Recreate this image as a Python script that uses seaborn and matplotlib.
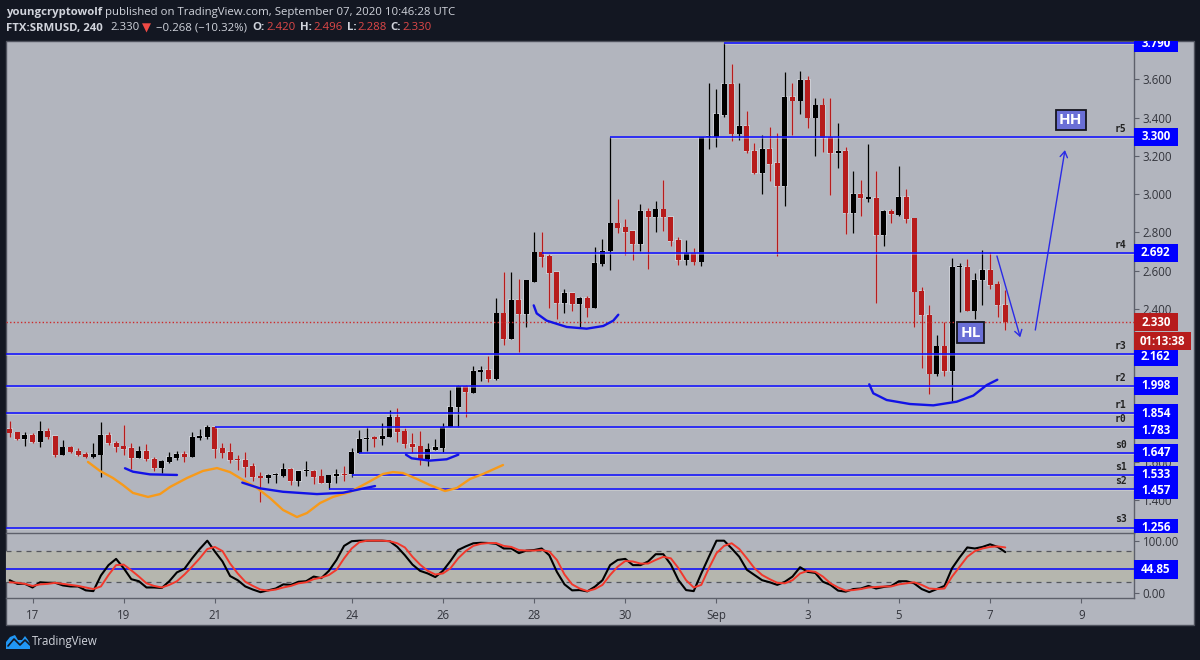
import matplotlib
matplotlib.use("Agg")
import matplotlib.pyplot as plt
import seaborn as sns
import numpy as np
from matplotlib.patches import Rectangle, Polygon
from matplotlib.transforms import blended_transform_factory, Bbox, TransformedBbox

# ---------- OHLC (4h candles, FTX:SRMUSD) ----------
opens = [1.770,1.754,1.717,1.740,1.703,1.763,1.735,1.637,1.675,1.656,
1.641,1.627,1.637,1.740,1.700,1.681,1.672,1.621,1.656,1.616,
1.567,1.597,1.621,1.641,1.627,1.726,1.728,1.784,1.670,1.651,
1.613,1.611,1.578,1.524,1.515,1.531,1.527,1.562,1.499,1.550,
1.552,1.524,1.489,1.524,1.538,1.536,1.648,1.717,1.728,1.717,
1.731,1.834,1.759,1.695,1.681,1.616,1.662,1.670,1.782,1.885,
1.998,1.961,2.071,2.080,2.031,2.376,2.242,2.446,2.371,2.542,
2.695,2.676,2.592,2.430,2.483,2.425,2.458,2.406,2.636,2.704,
2.847,2.826,2.809,2.739,2.911,2.878,2.920,2.882,2.760,2.655,
2.690,2.647,3.298,3.299,3.414,3.576,3.316,3.356,3.227,3.109,
3.238,3.163,3.043,3.508,3.489,3.597,3.400,3.464,3.299,3.213,
3.227,2.900,3.001,2.976,2.982,2.786,2.912,2.893,2.987,2.873,
2.493,2.369,2.061,2.204,2.075,2.617,2.620,2.390,2.550,2.603,
2.528,2.420]
closes = [1.752,1.717,1.740,1.702,1.763,1.731,1.635,1.675,1.653,1.635,
1.627,1.641,1.740,1.696,1.675,1.668,1.621,1.658,1.613,1.567,
1.602,1.627,1.641,1.627,1.729,1.735,1.784,1.668,1.648,1.609,
1.607,1.571,1.519,1.517,1.533,1.536,1.562,1.499,1.553,1.557,
1.520,1.489,1.529,1.538,1.531,1.651,1.719,1.726,1.721,1.735,
1.834,1.757,1.693,1.677,1.616,1.665,1.677,1.782,1.887,1.998,
1.963,2.075,2.080,2.031,2.376,2.242,2.446,2.371,2.549,2.695,
2.671,2.587,2.430,2.483,2.425,2.458,2.406,2.640,2.704,2.847,
2.824,2.803,2.739,2.911,2.878,2.920,2.878,2.755,2.655,2.694,
2.647,3.297,3.302,3.419,3.576,3.316,3.356,3.226,3.109,3.238,
3.158,3.043,3.508,3.489,3.597,3.400,3.464,3.294,3.213,3.227,
2.900,3.001,2.978,2.983,2.786,2.912,2.894,2.987,2.870,2.490,
2.368,2.061,2.204,2.075,2.620,2.620,2.390,2.550,2.603,2.524,
2.420,2.330]
highs = [1.813,1.757,1.757,1.749,1.813,1.775,1.735,1.714,1.682,1.670,
1.653,1.700,1.810,1.754,1.710,1.790,1.696,1.684,1.691,1.623,
1.609,1.651,1.658,1.658,1.756,1.770,1.794,1.784,1.696,1.696,
1.635,1.651,1.595,1.546,1.536,1.539,1.592,1.566,1.553,1.604,
1.557,1.562,1.531,1.562,1.578,1.670,1.766,1.784,1.735,1.804,
1.871,1.881,1.775,1.749,1.761,1.697,1.721,1.801,1.975,2.002,
2.002,2.101,2.101,2.153,2.455,2.593,2.593,2.554,2.551,2.803,
2.803,2.685,2.592,2.502,2.484,2.463,2.467,2.725,2.763,3.300,
2.973,2.868,2.809,2.948,2.927,2.964,3.074,2.882,2.774,2.760,
2.716,3.300,3.583,3.548,3.790,3.680,3.583,3.435,3.266,3.311,
3.349,3.318,3.640,3.583,3.646,3.618,3.501,3.501,3.501,3.370,
3.245,3.119,3.074,3.262,3.119,2.917,2.922,3.149,3.027,2.873,
2.516,2.420,2.263,2.333,2.664,2.638,2.660,2.585,2.707,2.695,
2.547,2.496]
lows = [1.731,1.714,1.682,1.696,1.679,1.717,1.627,1.635,1.648,1.630,
1.618,1.618,1.522,1.686,1.651,1.635,1.564,1.618,1.602,1.553,
1.543,1.592,1.609,1.599,1.623,1.714,1.721,1.621,1.618,1.592,
1.557,1.519,1.501,1.391,1.487,1.487,1.522,1.479,1.473,1.526,
1.484,1.487,1.456,1.491,1.501,1.522,1.648,1.656,1.679,1.688,
1.731,1.705,1.670,1.648,1.583,1.580,1.662,1.653,1.780,1.784,
1.836,1.958,2.021,2.017,2.028,2.209,2.242,2.174,2.307,2.538,
2.617,2.406,2.347,2.376,2.390,2.307,2.355,2.406,2.626,2.603,
2.795,2.681,2.655,2.704,2.608,2.800,2.809,2.730,2.631,2.631,
2.629,2.625,3.238,3.248,3.405,3.280,3.283,3.213,3.105,3.001,
3.070,2.677,2.938,3.309,3.419,3.346,3.199,3.222,2.995,3.135,
2.790,2.799,2.887,2.957,2.432,2.731,2.847,2.887,2.851,2.303,
2.092,1.953,2.050,2.050,1.918,2.385,2.390,2.347,2.420,2.503,
2.355,2.288]

# ---------- Stochastic RSI ----------
stoch_k = [24,17,17,10,20,19,19,14,12,12,
4.5,3,33,53,65,47,26,22,10,10,
9,22,39,46,66,84,100,79,60,32,
24,12,6,1,4.5,8,16,15,21,22,
31,28,42,63,90,99,100,100,100,100,
99,88,72,54,42,37,30,42,61,82,
89,95,96,95.5,94,85,85,76,81,82,
85,72,40,16,4.5,5,2.5,11.5,24,53,
63,65,53,53,60,74,74,54,24,5,
3,37,69,100,100,85,69,44,34,24,
20,15,21,31,49,40,38,21,15,4,
2,7,8,13,8,11,13,22,22,18,
7,1,7,13,47,68,87,85,88,93,
88,78]
stoch_d = [20,19,17,13,16,17,19,17,15,13,
10,7,12,34,53,54,43,31,18,13,
10,15,22,35,50,66,84,88,80,56,
37,21,13,6,4,6,10,13,18,20,
26,29,34,44,66,85,97,100,100,100,
99,95,87,69,54,42,35,37,47,66,
80,90,94,95.5,95.5,90,88,82,81,81,
82,79,63,35,16,8,3,7,15,34,
50,61,60,56,56,63,69,66,47,24,
10,15,47,76,90,95,84,66,47,34,
26,19,18,24,37,42,40,31,18,10,
4,5,7,10,11,12,12,16,18,20,
15,8,7,8,31,50,69,80,85,88,
89,87]

# ---------- levels ----------
level_prices = [3.790, 3.300, 2.692, 2.162, 1.998, 1.854, 1.783, 1.647, 1.533, 1.457, 1.256]
level_starts = [94, 79, 70, None, None, None, 27, 46, 45, 42, None]
level_labels = ["3.790","3.300","2.692","2.162","1.998","1.854","1.783","1.647","1.533","1.457","1.256"]
level_tag_y  = [3.790, 3.300, 2.692, 2.150, 1.998, 1.854, 1.766, 1.647, 1.533, 1.450, 1.256]
pivot_names  = ["r5","r4","r3","r2","r1","r0","s0","s1","s2","s3"]
pivot_prices = [3.300, 2.692, 2.162, 1.998, 1.854, 1.783, 1.647, 1.533, 1.457, 1.256]
last_price = 2.330
stoch_level = 44.85
tick_positions = [3,15,27,45,57,69,81,93,105,117,129,141]
tick_labels = ["17","19","21","24","26","28","30","Sep","3","5","7","9"]
price_ticks = [1.4,1.6,2.4,2.6,2.8,3.0,3.2,3.4,3.6]

# ---------- hand-drawn annotations (candle index, price) ----------
orange_x = [10.30,11.88,13.59,14.91,16.22,18.2,19.78,21.09,23.33,25.43,27.28,28.99,30.7,32.54,34.25,35.96,37.8,39.12,40.83,42.54,44.78,47.0,49.12,50.43,51.75,53.59,55.3,57.28,58.86,60.57,62.28,64.91]
orange_y = [1.599,1.552,1.515,1.478,1.437,1.416,1.431,1.468,1.515,1.552,1.567,1.546,1.505,1.463,1.410,1.348,1.311,1.332,1.384,1.416,1.442,1.489,1.536,1.546,1.541,1.510,1.478,1.447,1.463,1.510,1.536,1.583]
arc_a = ([15.17,16.22,18.46,22.01],[1.566,1.548,1.534,1.531])
arc_b = ([30.6,32.93,35.96,40.43,43.86,48.07],[1.491,1.461,1.443,1.431,1.438,1.473])
arc_c = ([52.14,52.89,55.3,57.5,59.03],[1.637,1.618,1.606,1.613,1.637])
arc_d = ([68.95,69.34,70.66,73.29,75.92,78.1,79.42,80.08],[2.418,2.376,2.338,2.305,2.296,2.310,2.338,2.369])
arc_e = ([113.1,113.63,115.39,118.46,121.53,124.6,126.79,128.55,129.95],[2.005,1.958,1.923,1.902,1.895,1.914,1.946,2.001,2.029])
arrow_down = ((129.9,2.676),(132.97,2.251))
arrow_up = ((134.95,2.289),(138.85,3.23))

BG = "#131722"; PANE = "#b2b5be"; BLUE = "#0000ff"; RED = "#b71c1c"
BAND = "#b5b6ae"; GRID = "#5d606b"; TXT = "#33353c"
BOLD = ["Open Sans", "DejaVu Sans"]

sns.set_theme(style="white", rc={"axes.facecolor": "none", "figure.facecolor": BG})
plt.rcParams["font.family"] = ["Open Sans", "DejaVu Sans"]

W, H = 1200, 660
fig = plt.figure(figsize=(12, 6.6), dpi=100, facecolor=BG)

def box(l, t, r, b):
    return [l/W, 1-b/H, (r-l)/W, (b-t)/H]

# chrome layer (pane background, logo)
bg = fig.add_axes([0, 0, 1, 1], zorder=0)
bg.set_xlim(0, W); bg.set_ylim(H, 0); bg.axis("off")
bg.add_patch(Rectangle((6, 41), 1188, 584, fc=PANE, ec="#50535e", lw=1))
bg.add_patch(Polygon([(6,649),(6,642),(10,637),(15,635),(18,640),(22,640),(25,636),(28,640),(30,644),(30,649)],
                     closed=True, fc="#2196f3", ec="none"))
bg.plot([8,14,20,25,30], [646,639,645,640,645], color=BG, lw=1.2)

N = len(opens)
idx = np.arange(N)
XL = (-0.487, 147.87)

# ---------- main pane ----------
ax = fig.add_axes(box(6, 41, 1133.5, 533), zorder=1)
ax.set_facecolor("none")
ax.set_xlim(*XL); ax.set_ylim(1.2274, 3.8006)

o, c, hi, lo = map(np.array, (opens, closes, highs, lows))
up = c >= o
for mask, col in ((up, "black"), (~up, RED)):
    bottoms = np.minimum(o, c)[mask]
    heights = np.maximum(np.abs(c - o)[mask], 0.006)
    ax.vlines(idx[mask], lo[mask], hi[mask], color="#dcdee3", lw=2.0, alpha=.5, zorder=3)
    ax.bar(idx[mask], heights + 0.008, bottom=bottoms - 0.004, width=0.82, color="#dcdee3", alpha=.6,
           linewidth=0, zorder=3.05)
    ax.vlines(idx[mask], lo[mask], hi[mask], color=col, lw=1.0, zorder=3.1)
    ax.bar(idx[mask], heights, bottom=bottoms, width=0.64, color=col, linewidth=0, zorder=3.2)

right = XL[1]
for p, s in zip(level_prices, level_starts):
    ax.hlines(p, XL[0] if s is None else s, right, color="#e2e2da", lw=2.0, alpha=.45, zorder=3.3)
    ax.hlines(p, XL[0] if s is None else s, right, color=BLUE, lw=1.2, alpha=.9, zorder=3.4)
ax.hlines(last_price, XL[0], right, color="#cc2b2b", lw=1, linestyles=(0, (1, 1.6)), zorder=3.3)

sns.lineplot(x=orange_x, y=orange_y, ax=ax, color="#f79a1a", lw=1.7, zorder=4,
             estimator=None, errorbar=None, sort=False)
for xs, ys in (arc_a, arc_b, arc_c, arc_d, arc_e):
    sns.lineplot(x=xs, y=ys, ax=ax, color="#1212e6", lw=1.7, zorder=4.1,
                 estimator=None, errorbar=None, sort=False)
for a, b in (arrow_down, arrow_up):
    ax.annotate("", xy=b, xytext=a, zorder=4.1,
                arrowprops=dict(arrowstyle="->,head_length=0.35,head_width=0.22", color="#2a2ae6", lw=1.0,
                                shrinkA=0, shrinkB=0))

lab_kw = dict(color="white", fontweight="bold", fontsize=11, ha="center", va="center", zorder=6,
              family=BOLD, bbox=dict(boxstyle="square,pad=0.22", fc="#6a6fd6", ec="#15151f", lw=1.3))
ax.text(126.4, 2.276, "HL", **lab_kw)
ax.text(139.6, 3.387, "HH", **lab_kw)

# axis cosmetics
for s in ("top", "left"):
    ax.spines[s].set_visible(False)
for s in ("right", "bottom"):
    ax.spines[s].set_color(GRID); ax.spines[s].set_linewidth(1)
ax.set_xticks([])
ax.yaxis.tick_right()
ax.set_yticks(price_ticks)
ax.set_yticklabels([f"{t:.3f}" for t in price_ticks])
ax.tick_params(axis="y", length=3.5, width=.8, color=GRID, labelcolor=TXT, labelsize=8.3, pad=3, right=True)

# price tags
tr = blended_transform_factory(ax.transAxes, ax.transData)
dpx = 0.00523
tag_w = 44.5 / 1127.5
clip = TransformedBbox(Bbox([[1.0, 0.0], [1.06, 1.0]]), ax.transAxes)

def tag(a, trans, yc, label, col, half, w=tag_w, size=8.3, weight="bold"):
    r = Rectangle((1.0, yc - half), w, 2 * half, transform=trans, fc=col, ec="none", zorder=5, clip_on=True)
    a.add_patch(r); r.set_clip_box(clip if a is ax else None)
    t = a.text(1.0 + w/2, yc, label, transform=trans, color="white", fontsize=size, fontweight=weight,
               family=BOLD, ha="center", va="center", zorder=5.1, clip_on=(a is ax))
    if a is ax:
        t.set_clip_box(clip)

for y, lbl in zip(level_tag_y, level_labels):
    tag(ax, tr, y, lbl, BLUE, 9 * dpx)
tag(ax, tr, last_price, "2.330", RED, 9.3 * dpx)
tag(ax, tr, 4.015 - dpx * 341, "01:13:38", RED, 8.8 * dpx, w=57 / 1127.5)

for name, p in zip(pivot_names, pivot_prices):
    ax.annotate(name, xy=(1.0, p), xycoords=tr, xytext=(-5, 5.8), textcoords="offset points",
                ha="right", va="center", fontsize=7, fontweight="bold", family="DejaVu Sans Mono",
                color="#222", zorder=5)

# ---------- stochastic pane ----------
ax2 = fig.add_axes(box(6, 533.3, 1133.5, 598.3), zorder=1)
ax2.set_facecolor("none")
ax2.set_xlim(*XL); ax2.set_ylim(-10.8, 114.2)
ax2.axhspan(20, 80, color=BAND, lw=0, zorder=1)
ax2.hlines([20, 80], XL[0], XL[1], color="#55575e", lw=.9, linestyles=(0, (4, 4)), zorder=2)
ax2.hlines(stoch_level, XL[0], XL[1], color=BLUE, lw=1.2, alpha=.9, zorder=2.2)
sns.lineplot(x=idx, y=stoch_k, ax=ax2, color="black", lw=1.5, zorder=3, estimator=None, errorbar=None)
sns.lineplot(x=idx, y=stoch_d, ax=ax2, color="#f2382c", lw=1.4, zorder=3.1, estimator=None, errorbar=None)
for s in ("top", "left"):
    ax2.spines[s].set_visible(False)
for s in ("right", "bottom"):
    ax2.spines[s].set_color(GRID); ax2.spines[s].set_linewidth(1)
ax2.yaxis.tick_right()
ax2.set_yticks([0, 100]); ax2.set_yticklabels(["0.00", "100.00"])
ax2.set_xticks(tick_positions); ax2.set_xticklabels(tick_labels)
ax2.tick_params(axis="y", length=3.5, width=.8, color=GRID, labelcolor=TXT, labelsize=8.3, pad=3, right=True)
ax2.tick_params(axis="x", length=3.5, width=.8, color=GRID, labelcolor=TXT, labelsize=8.3, pad=4, bottom=True)
ax2.set_xlabel(""); ax2.set_ylabel("")
tr2 = blended_transform_factory(ax2.transAxes, ax2.transData)
tag(ax2, tr2, stoch_level, "44.85", BLUE, 17.6)

# ---------- header ----------
HDR = "#d1d4dc"; REDT = "#e04848"
def hdr(x, y, s, col=HDR, bold=False, family=None, size=8.2):
    fig.text(x / W, 1 - y / H, s, color=col, fontsize=size, fontweight="bold" if bold else "normal",
             ha="left", va="center", family=family or BOLD)
hdr(6, 12, "youngcryptowolf", bold=True)
hdr(105, 12, "published on TradingView.com, September 07, 2020 10:46:28 UTC")
hdr(6, 28, "FTX:SRMUSD, 240", bold=True)
hdr(110, 28, "2.330")
hdr(142, 28, "\u25bc", col="#ef4a45", family=["DejaVu Sans"], size=8.5)
hdr(155.7, 28, "\u22120.268 (\u221210.32%)")
for xl, l, xv, v in ((252.7, "O:", 266, "2.420"), (300, "H:", 313, "2.496"),
                     (346.7, "L:", 357, "2.288"), (390.7, "C:", 402.7, "2.330")):
    hdr(xl, 28, l, bold=True)
    hdr(xv, 28, v, col=REDT)
hdr(32, 642, "TradingView", size=8.3)

fig.savefig("out.png", dpi=100, facecolor=BG)
